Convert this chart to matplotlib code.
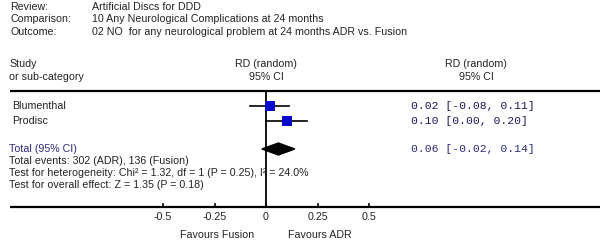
import matplotlib
matplotlib.use("Agg")
import matplotlib.pyplot as plt
from matplotlib.patches import Polygon

# ---- data ----
header_labels = ["Review:", "Comparison:", "Outcome:"]
header_values = ["Artificial Discs for DDD",
                 "10 Any Neurological Complications at 24 months",
                 "02 NO  for any neurological problem at 24 months ADR vs. Fusion"]
studies = ["Blumenthal", "Prodisc"]
rd = [0.02, 0.10]
ci_lo = [-0.08, 0.00]
ci_hi = [0.11, 0.20]
weights = [55, 45]
total_rd = 0.06
total_lo = -0.02
total_hi = 0.14
ci_text = ["0.02 [-0.08, 0.11]", "0.10 [0.00, 0.20]"]
total_text = "0.06 [-0.02, 0.14]"
footer = ["Total events: 302 (ADR), 136 (Fusion)",
          "Test for heterogeneity: Chi\u00b2 = 1.32, df = 1 (P = 0.25), I\u00b2 = 24.0%",
          "Test for overall effect: Z = 1.35 (P = 0.18)"]
ticks = [-0.5, -0.25, 0, 0.25, 0.5]
tick_labels = ["-0.5", "-0.25", "0", "0.25", "0.5"]

W, H = 600, 242
fig = plt.figure(figsize=(6, 2.42), dpi=100)
ax = fig.add_axes([0, 0, 1, 1])
ax.axis("off")
ppu = 206.0          # pixels per RD unit
x0 = 266.0           # pixel of RD = 0
ax.set_xlim(-x0 / ppu, (W - x0) / ppu)
ax.set_ylim(H, 0)

FONT = "Liberation Sans"
TXT = "#222222"
BLUE_TXT = "#2b2b7a"
fs = 7.7
mono_fs = 8.2

def px2rd(px):
    return (px - x0) / ppu

def ftext(px, py, s, **kw):
    kw.setdefault("fontsize", fs)
    kw.setdefault("color", TXT)
    kw.setdefault("family", FONT)
    kw.setdefault("va", "center")
    ax.text(px2rd(px), py, s, **kw)

# header
for i, (l, v) in enumerate(zip(header_labels, header_values)):
    y = 7 + 12.5 * i
    ftext(10, y, l)
    ftext(92, y, v)

# column headers
ftext(9, 64, "Study")
ftext(9, 77, "or sub-category")
ftext(266, 64, "RD (random)", ha="center")
ftext(266, 77, "95% CI", ha="center")
ftext(476, 64, "RD (random)", ha="center")
ftext(476, 77, "95% CI", ha="center")

# separator line
ax.plot([px2rd(10), px2rd(600)], [91, 91], color="black", lw=1.6, solid_capstyle="butt")

# zero line
ax.plot([0, 0], [91, 206], color="black", lw=1.3)

# studies
rows = [106, 121]
for y, name, m, lo, hi, w, t in zip(rows, studies, rd, ci_lo, ci_hi, weights, ci_text):
    ftext(12, y, name)
    ax.plot([lo, hi], [y, y], color="black", lw=1.2, zorder=3)
    ax.plot([m], [y], marker="s", color="#0a0acc", markersize=5.8 + w / 100 * 1.6,
            markeredgewidth=0, zorder=4)
    ftext(411, y, t, family="Liberation Mono", fontsize=mono_fs, color="#1a1a5a")

# total
ty = 149
ftext(9, ty, "Total (95% CI)", color=BLUE_TXT)
diamond = Polygon([(total_lo, ty), (total_rd, ty - 6), (total_hi, ty), (total_rd, ty + 6)],
                  closed=True, facecolor="black", edgecolor="black", lw=1.0, zorder=4)
ax.add_patch(diamond)
ftext(411, ty, total_text, family="Liberation Mono", fontsize=mono_fs, color=BLUE_TXT)

for i, s in enumerate(footer):
    ftext(9, 161 + 12 * i, s)

# axis
ay = 207
ax.plot([px2rd(10), px2rd(600)], [ay, ay], color="black", lw=1.6, solid_capstyle="butt")
for t, lab in zip(ticks, tick_labels):
    ax.plot([t, t], [ay - 3, ay], color="black", lw=1.2)
    ax.text(t, 217, lab, fontsize=fs, color=TXT, family=FONT, ha="center", va="center")

ftext(217, 235, "Favours Fusion", ha="center")
ftext(320, 235, "Favours ADR", ha="center")

fig.savefig("out.png", dpi=100)
